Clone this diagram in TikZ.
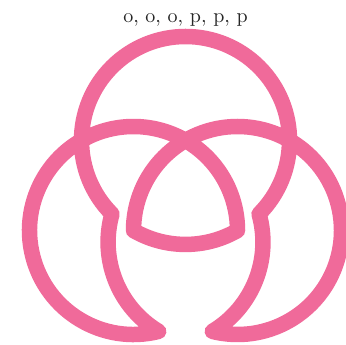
\documentclass[tikz,border=0pt]{standalone}
\usepackage{tikz}

\definecolor{ringpink}{RGB}{240,106,154}

\begin{document}
\begin{tikzpicture}[
        x=1pt, y=1pt,
        ring/.style={draw=ringpink, line width=15.5pt, line join=round},
        caption/.style={text=black!85, anchor=base, inner sep=0pt}
    ]
        \useasboundingbox (0,0) rectangle (346,345);

        % Circle centres
        \coordinate (topc) at (185.5,204.5);
        \coordinate (leftc) at (133.5,114.5);
        \coordinate (rightc) at (237.5,114.5);

        % Label
        \node (label) [caption] at (185.5,322) {\scalebox{2}{o, o, o, p, p, p}};

        % The one closed strand: top arc, left swap arc, left ring,
        % inner bottom arc, right ring, right swap arc
        \draw[ring] ([shift={(-45:104pt)}]topc)
            arc[start angle=-45, end angle=225, radius=104pt]
            arc[start angle=164.3, end angle=239.1, radius=104pt]
            arc[start angle=284, end angle=0, radius=104pt]
            arc[start angle=300, end angle=240, radius=104pt]
            arc[start angle=180, end angle=-104, radius=104pt]
            arc[start angle=-59.1, end angle=15.7, radius=104pt]
            -- cycle;
    \end{tikzpicture}
\end{document}
